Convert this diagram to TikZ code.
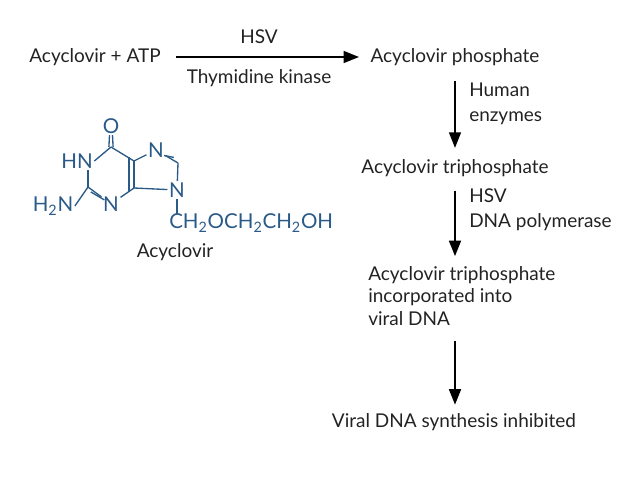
\documentclass[tikz,border=0pt]{standalone}
\usepackage{fontspec}
\setmainfont{Lato}
\usepackage{xcolor}
\usetikzlibrary{arrows.meta}
\definecolor{molblue}{HTML}{2A5A88}
\definecolor{inkgray}{HTML}{222222}
\tikzset{
  flow/.style={draw=black,line width=1.1pt,-{Triangle[length=11pt,width=8.5pt]}},
  txt/.style={text=inkgray,inner sep=0pt,font=\fontsize{13.5}{16}\selectfont},
  atom/.style={text=molblue,inner sep=1pt,font=\fontsize{14.6}{16}\selectfont},
  bond/.style={draw=molblue,line width=0.95pt},
}
\begin{document}
\begin{tikzpicture}[x=0.025cm,y=-0.025cm]
  \useasboundingbox (0,0) rectangle (638,479);
  % reaction steps
  \node[txt] (substrate) at (95,57) {Acyclovir + ATP};
  \node[txt] (phos) at (455,57) {Acyclovir phosphate};
  \node[txt] (tri) at (455,168) {Acyclovir triphosphate};
  \node[txt,align=left,anchor=north west] (incorp) at (368,266) {Acyclovir triphosphate\\incorporated into\\viral DNA};
  \node[txt] (final) at (454,422) {Viral DNA synthesis inhibited};
  \node[txt] (hsvtop) at (259,37) {HSV};
  \node[txt] (tk) at (259,78) {Thymidine kinase};
  \node[txt,align=left,anchor=west] (human) at (469,104) {Human\\[1.6pt]enzymes};
  \node[txt,align=left,anchor=west] (pol) at (469,210) {HSV\\[1.6pt]DNA polymerase};
  \draw[flow,shorten <=11pt,shorten >=8pt] (substrate.east) -- (phos.west);
  \draw[flow,shorten <=11pt,shorten >=8pt] (phos.south) -- (tri.north);
  \draw[flow,shorten <=10pt,shorten >=7pt] (tri.south) -- (tri.south |- incorp.north);
  \draw[flow,shorten <=11pt,shorten >=6pt] (tri.south |- incorp.south) -- (tri.south |- final.north);
  % acyclovir
  \coordinate (c6) at (111,147);
  \coordinate (c2) at (88,187);
  \coordinate (c4) at (134,188);
  \coordinate (c5) at (134,161);
  \coordinate (c8) at (178,163);
  \node[atom] (oxy) at (111,126) {O};
  \node[atom] (hn) at (77,161) {HN};
  \node[atom] (n3) at (111,204) {N};
  \node[atom] (n7) at (156,150) {N};
  \node[atom] (n9) at (177,190) {N};
  \node[atom] (nh) at (53,206) {H\textsubscript{2}N};
  \node[atom,anchor=west,inner sep=0pt] (chain) at (169,223) {CH\textsubscript{2}OCH\textsubscript{2}CH\textsubscript{2}OH};
  \node[txt] (name) at (175,252) {Acyclovir};
  \draw[bond] (oxy.south) ++(-1.5,0) -- ([xshift=-1.5]c6);
  \draw[bond] (oxy.south) ++(1.5,0) -- ([xshift=1.5]c6);
  \draw[bond] (hn.east) -- (c6);
  \draw[bond] (c6) -- (c5);
  \draw[bond] (c5) -- (c4);
  \draw[bond] ([xshift=-3.5,yshift=3]c5) -- ([xshift=-3.5,yshift=-3]c4);
  \draw[bond] (c4) -- (n3);
  \draw[bond] (n3) -- (c2);
  \draw[bond] ([xshift=2,yshift=-3.5]c2) -- ([xshift=2,yshift=-3.5]n3.north west);
  \draw[bond] (c2) -- (c2 |- hn.south);
  \draw[bond] (c2) -- (nh.east);
  \draw[bond] (c5) -- (n7);
  \draw[bond] (n7) -- (c8);
  \draw[bond] ([xshift=-1,yshift=2.5]n7.south east) -- ([xshift=-3,yshift=4]c8);
  \draw[bond] (c8) -- (n9);
  \draw[bond] (c4) -- (n9);
  \draw[bond] (n9) -- (n9 |- chain.north);
\end{tikzpicture}
\end{document}
